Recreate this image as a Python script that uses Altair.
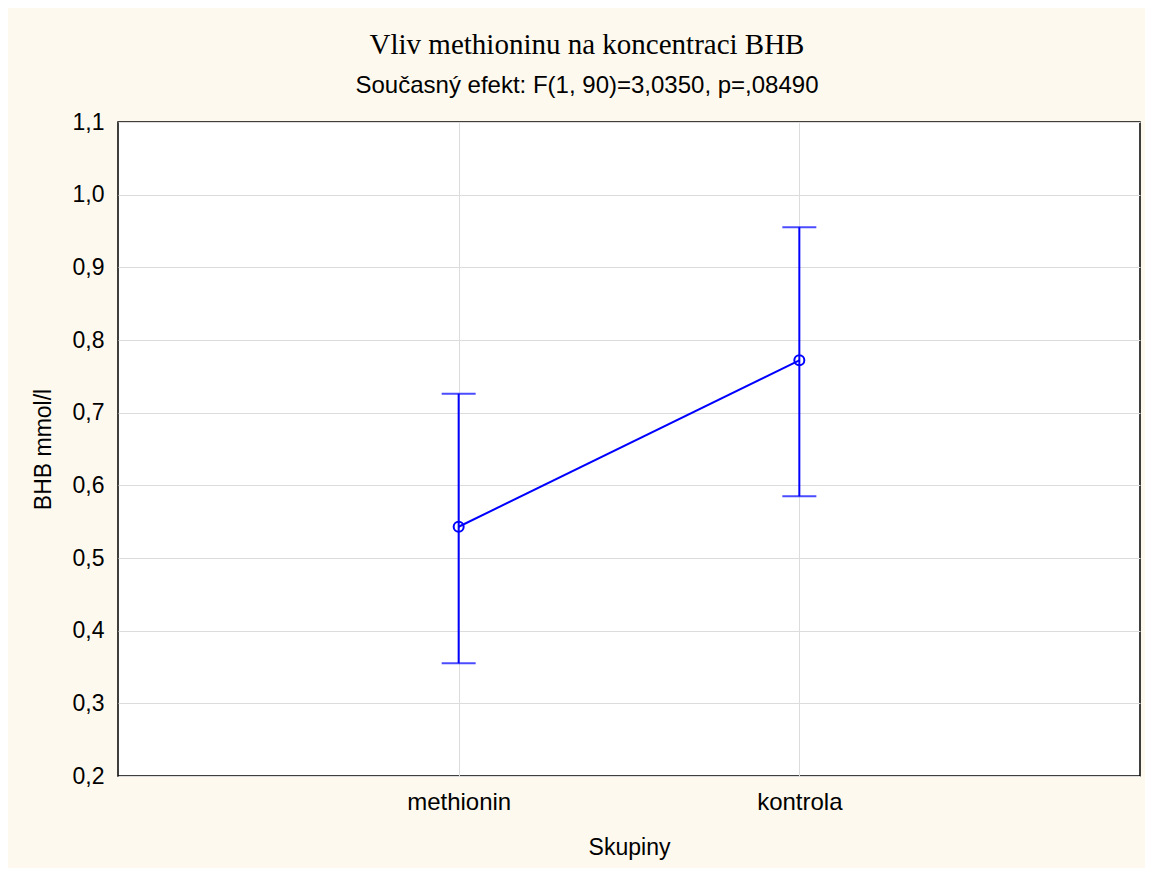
import altair as alt
import pandas as pd

groups = ["methionin", "kontrola"]
means = [0.543, 0.772]
lower = [0.355, 0.585]
upper = [0.726, 0.955]
y_ticks = [0.2, 0.3, 0.4, 0.5, 0.6, 0.7, 0.8, 0.9, 1.0, 1.1]

df = pd.DataFrame({"Skupiny": groups, "mean": means, "lo": lower, "hi": upper})

BLUE = "#0000FF"
FONT = "Liberation Sans"

x = alt.X("Skupiny:N", sort=groups,
          scale=alt.Scale(type="point", padding=1),
          axis=alt.Axis(title="Skupiny", labelAngle=0, ticks=False, domain=False,
                        labelFontSize=24, titleFontSize=23, labelPadding=14,
                        titlePadding=22, titleFontWeight="normal",
                        labelFont=FONT, titleFont=FONT, labelColor="black",
                        titleColor="black", grid=True, gridColor="#dcdcdc"))
y_scale = alt.Scale(domain=[0.2, 1.1], nice=False, zero=False)
y_axis = alt.Axis(title="BHB mmol/l", values=y_ticks, format=".1f",
                  labelExpr="replace(datum.label, '.', ',')",
                  ticks=False, domain=False, labelFontSize=23, titleFontSize=23,
                  labelPadding=14, titlePadding=17, titleFontWeight="normal",
                  labelFont=FONT, titleFont=FONT, labelColor="black", titleColor="black",
                  grid=True, gridColor="#dcdcdc")

base = alt.Chart(df)

line = base.mark_line(color=BLUE, strokeWidth=2).encode(
    x=x, y=alt.Y("mean:Q", scale=y_scale, axis=y_axis))
rule = base.mark_rule(color=BLUE, strokeWidth=2).encode(
    x=x, y=alt.Y("lo:Q", scale=y_scale, axis=y_axis), y2="hi:Q")
cap_lo = base.mark_tick(color=BLUE, size=34, thickness=2).encode(
    x=x, y=alt.Y("lo:Q", scale=y_scale, axis=y_axis))
cap_hi = base.mark_tick(color=BLUE, size=34, thickness=2).encode(
    x=x, y=alt.Y("hi:Q", scale=y_scale, axis=y_axis))
pts = base.mark_point(color=BLUE, filled=False, size=100, strokeWidth=2,
                      shape="circle", opacity=1).encode(
    x=x, y=alt.Y("mean:Q", scale=y_scale, axis=y_axis))

chart = alt.layer(rule, cap_lo, cap_hi, line, pts).properties(
    width=1022, height=654,
    autosize=alt.AutoSizeParams(type="none"),
    padding={"left": 110, "top": 114, "right": 5, "bottom": 92},
    background="#FEF9EE",
    title=alt.TitleParams(
        text="Vliv methioninu na koncentraci BHB",
        subtitle="Současný efekt: F(1, 90)=3,0350, p=,08490",
        font="Liberation Serif", fontSize=29, fontWeight="normal", color="black",
        subtitleFont=FONT, subtitleFontSize=24, subtitleColor="black",
        subtitlePadding=14, anchor="middle", dx=-42, offset=13),
).configure_view(fill="white", stroke="black", strokeWidth=1.5)

chart.save("out.html", embed_options={"renderer": "svg", "actions": False})
